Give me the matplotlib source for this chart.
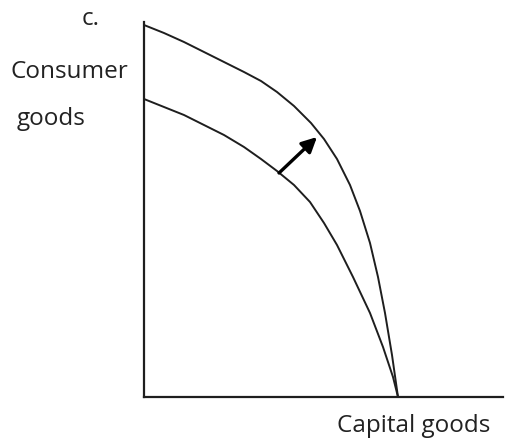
import matplotlib
matplotlib.use("Agg")
import matplotlib.pyplot as plt

# production possibility frontiers (capital goods, consumer goods)
outer_x = [0, 20, 40, 60, 80, 100, 117, 133, 150, 167, 180, 193, 206, 216, 226, 234, 241, 248, 254]
outer_y = [372, 364, 355, 345, 335, 325, 316, 305, 291, 274, 258, 238, 212, 186, 154, 120, 84, 42, 0]
inner_x = [0, 20, 40, 60, 80, 100, 117, 133, 150, 166, 180, 193, 209, 226, 239, 249, 254]
inner_y = [298, 290, 282, 272, 262, 250, 238, 226, 212, 195, 174, 152, 120, 84, 50, 20, 0]

# shift arrow: from inner curve towards outer curve
arrow_start = (135, 224)
arrow_end = (173, 260)

fig = plt.figure(figsize=(5.06, 4.38), dpi=100)
ax = fig.add_axes([144/506, 41/438, 359/506, 375/438])

for xs, ys in [(outer_x, outer_y), (inner_x, inner_y)]:
    ax.plot(xs, ys, c='#1e1e1e', lw=1.4, solid_joinstyle='round')
ax.annotate('', xy=arrow_end, xytext=arrow_start,
            arrowprops=dict(arrowstyle='-|>,head_length=0.9,head_width=0.45',
                            color='black', lw=2.4, shrinkA=0, shrinkB=0))

ax.set_xlim(0, 359)
ax.set_ylim(0, 375)
for s in ['top', 'right']:
    ax.spines[s].set_visible(False)
ax.spines['left'].set_linewidth(1.6)
ax.spines['bottom'].set_linewidth(1.6)
ax.spines['left'].set_color('#1e1e1e')
ax.spines['bottom'].set_color('#1e1e1e')
ax.set_xticks([])
ax.set_yticks([])

font = dict(family='Open Sans', fontsize=17.5, color='#222222',
            ha='left', va='baseline', clip_on=False)
ax.text(-62, 372, 'c.', **font)
ax.text(-134, 319, 'Consumer', **font)
ax.text(-127, 272, 'goods', **font)
ax.text(193, -35, 'Capital goods', **font)

fig.savefig('out.png', dpi=100)
